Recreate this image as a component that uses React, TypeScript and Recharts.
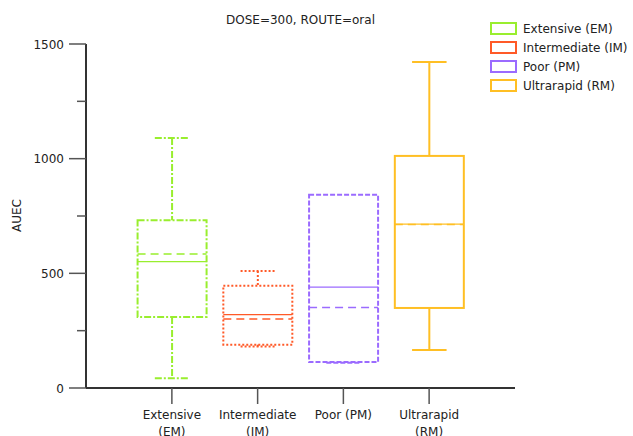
import { Bar, ComposedChart, XAxis, YAxis } from "recharts";

const categories = ["Extensive (EM)", "Intermediate (IM)", "Poor (PM)", "Ultrarapid (RM)"];
const whiskerLow = [42, 181, 110, 166];
const q1 = [310, 189, 113, 349];
const median = [551, 320, 440, 715];
const mean = [584, 301, 351, 713];
const q3 = [731, 446, 843, 1012];
const whiskerHigh = [1090, 510, 843, 1422];
const yTicks = [0, 250, 500, 750, 1000, 1250, 1500];

const colors = ["#99ee2e", "#ff5a28", "#9b6bff", "#ffbf24"];
const dashes = ["7 2 2 2", "2 2", "5 2", undefined];

const rows = categories.map((name, i) => ({
  name,
  range: [whiskerLow[i], whiskerHigh[i]],
  q1: q1[i],
  median: median[i],
  mean: mean[i],
  q3: q3[i],
  idx: i,
}));

const FONT = "DejaVu Sans, sans-serif";

function BoxShape(props: any) {
  const { x, y, width, height, payload } = props;
  const i = payload.idx;
  const [lo, hi] = payload.range;
  const top = Math.min(y, y + height);
  const bottom = Math.max(y, y + height);
  const ppu = (bottom - top) / (hi - lo);
  const yOf = (v: number) => bottom - (v - lo) * ppu;
  const cx = x + width / 2;
  const cap = width / 4;
  const c = colors[i];
  const d = dashes[i];
  return (
    <g fill="none" stroke={c}>
      {hi > payload.q3 && (
        <>
          <line x1={cx} x2={cx} y1={yOf(hi)} y2={yOf(payload.q3)} strokeWidth={2} strokeDasharray={d} />
          <line x1={cx - cap} x2={cx + cap} y1={yOf(hi)} y2={yOf(hi)} strokeWidth={2} strokeDasharray={d} />
        </>
      )}
      {lo < payload.q1 && (
        <>
          <line x1={cx} x2={cx} y1={yOf(payload.q1)} y2={yOf(lo)} strokeWidth={2} strokeDasharray={d} />
          <line x1={cx - cap} x2={cx + cap} y1={yOf(lo)} y2={yOf(lo)} strokeWidth={2} strokeDasharray={d} />
        </>
      )}
      <rect
        x={x}
        y={yOf(payload.q3)}
        width={width}
        height={yOf(payload.q1) - yOf(payload.q3)}
        strokeWidth={2}
        strokeDasharray={d}
      />
      <line x1={x} x2={x + width} y1={yOf(payload.median)} y2={yOf(payload.median)} strokeWidth={1.2} />
      <line x1={x} x2={x + width} y1={yOf(payload.mean)} y2={yOf(payload.mean)} strokeWidth={1.5} strokeDasharray="8 5" />
    </g>
  );
}

function XTick(props: any) {
  const { x, y, payload } = props;
  const label: string = payload.value;
  let lines = [label];
  if (label.length > 10) {
    const k = label.lastIndexOf(" ");
    lines = [label.slice(0, k), label.slice(k + 1)];
  }
  return (
    <g>
      {lines.map((l, j) => (
        <text key={j} x={x} y={y + 15 + j * 16.5} textAnchor="middle" fontSize={12} fontFamily={FONT} fill="#222">
          {l}
        </text>
      ))}
    </g>
  );
}

function YTick(props: any) {
  const { x, y, payload } = props;
  const major = payload.value % 500 === 0;
  return (
    <g>
      <line x1={x - (major ? 17 : 9)} x2={x} y1={y} y2={y} stroke="#555" strokeWidth={1.5} />
      {major && (
        <text x={x - 22} y={y + 4.5} textAnchor="end" fontSize={12} fontFamily={FONT} fill="#222">
          {payload.value}
        </text>
      )}
    </g>
  );
}

export default function App() {
  return (
    <div style={{ position: "absolute", left: 0, top: 0, width: 633, height: 436, background: "#fff" }}>
      <ComposedChart
        width={633}
        height={436}
        data={rows}
        margin={{ top: 44, right: 118, bottom: 0, left: 0 }}
        barCategoryGap="10%"
      >
        <XAxis
          dataKey="name"
          height={48}
          interval={0}
          padding={{ left: 43, right: 43 }}
          tickSize={16}
          tickMargin={0}
          tick={<XTick />}
          axisLine={{ stroke: "#333", strokeWidth: 2 }}
          tickLine={{ stroke: "#555", strokeWidth: 1.5 }}
        />
        <YAxis
          width={86}
          domain={[0, 1500]}
          ticks={yTicks}
          interval={0}
          tickSize={0}
          tickMargin={0}
          tick={<YTick />}
          tickLine={false}
          axisLine={{ stroke: "#333", strokeWidth: 2 }}
        />
        <Bar dataKey="range" isAnimationActive={false} shape={<BoxShape />} />
      </ComposedChart>
      <svg width={633} height={436} style={{ position: "absolute", left: 0, top: 0, pointerEvents: "none" }}>
        <text x={300.5} y={24} textAnchor="middle" fontSize={12} fontFamily={FONT} fill="#222">
          DOSE=300, ROUTE=oral
        </text>
        <text
          x={16.5}
          y={215.5}
          transform="rotate(-90 16.5 215.5)"
          textAnchor="middle"
          dominantBaseline="central"
          fontSize={12}
          fontFamily={FONT}
          fill="#222"
        >
          AUEC
        </text>
        {categories.map((name, i) => (
          <g key={name}>
            <rect x={491} y={23 + i * 19} width={25} height={11} fill="#fff" stroke={colors[i]} strokeWidth={2} />
            <text x={523} y={33 + i * 19} fontSize={12} fontFamily={FONT} fill="#222">
              {name}
            </text>
          </g>
        ))}
      </svg>
    </div>
  );
}
